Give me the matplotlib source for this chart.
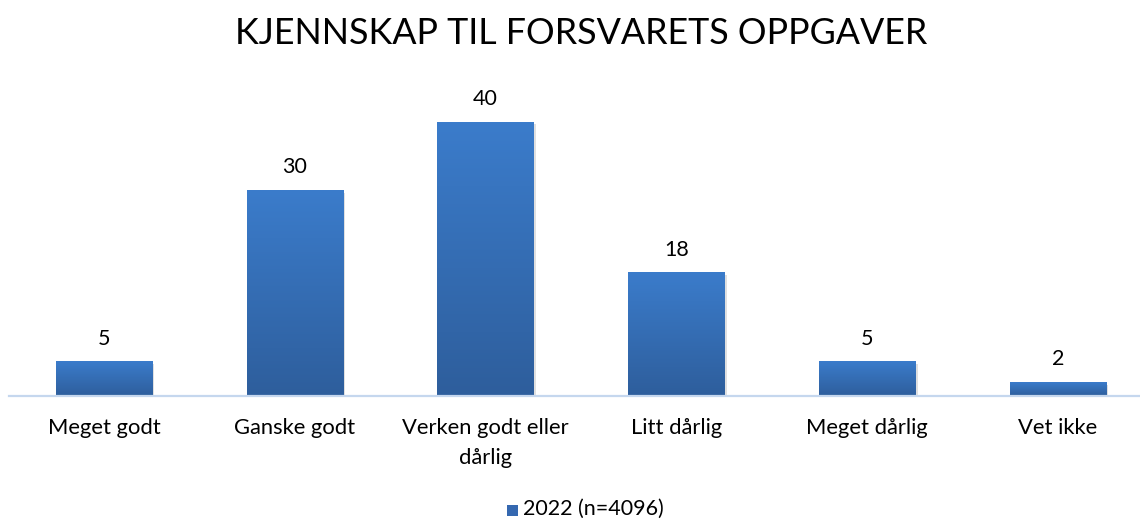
import matplotlib
matplotlib.use("Agg")
import matplotlib.pyplot as plt
import numpy as np
from matplotlib.colors import LinearSegmentedColormap
from matplotlib.patches import Rectangle
from matplotlib.transforms import offset_copy

categories = ["Meget godt", "Ganske godt", "Verken godt eller\ndårlig", "Litt dårlig", "Meget dårlig", "Vet ikke"]
values = [5, 30, 40, 18, 5, 2]
series_name = "2022 (n=4096)"
title = "KJENNSKAP TIL FORSVARETS OPPGAVER"

W, H = 1140, 519
fig = plt.figure(figsize=(W / 100, H / 100), dpi=100)
left_px, right_px = 8.6, 1153.4
base_px, top_px = 396, 122
ymax = 40
ax = fig.add_axes([left_px / W, 1 - base_px / H, (right_px - left_px) / W, (base_px - top_px) / H])
ax.set_xlim(-0.5, len(categories) - 0.5)
ax.set_ylim(0, ymax)
ax.set_axis_off()

cmap = LinearSegmentedColormap.from_list("g", ["#2E5E9C", "#3B7CCB"])
grad = np.linspace(0, 1, 256).reshape(-1, 1)
bw = 0.505
x = np.arange(len(categories))
for xi, v in zip(x, values):
    sh = Rectangle((xi - bw / 2 + 0.012, -0.35), bw, v, facecolor="#000000", alpha=0.12,
                   edgecolor="none", zorder=1)
    ax.add_patch(sh)
    ax.imshow(grad, extent=(xi - bw / 2, xi + bw / 2, 0, v), origin="lower", cmap=cmap,
              aspect="auto", zorder=2, interpolation="bilinear")
    ax.text(xi, v, str(v), ha="center", va="bottom", fontsize=15.5, family="Lato", color="#000000",
            transform=offset_copy(ax.transData, fig=fig, y=13, units="dots"))

ax.set_xlim(-0.5, len(categories) - 0.5)
ax.set_ylim(0, ymax)
ax.axhline(0, color="#C5D7EE", lw=1.6, zorder=3, clip_on=False)

for xi, c in zip(x, categories):
    ax.text(xi, 0, c, ha="center", va="top", fontsize=15.8, family="Lato", color="#000000",
            linespacing=1.6,
            transform=offset_copy(ax.transData, fig=fig, y=-22, units="dots"))

fig.text(581 / W, 1 - 33 / H, title, ha="center", va="center", fontsize=25.8, family="Lato", color="#000000")

lx = 507 / W
fig.patches.append(Rectangle((lx, 1 - 516 / H), 11 / W, 11 / H, transform=fig.transFigure,
                             facecolor="#3568B0", edgecolor="none"))
fig.text(523 / W, 1 - 509 / H, series_name, ha="left", va="center", fontsize=15.5, family="Lato", color="#000000")

fig.savefig("out.png", dpi=100)
